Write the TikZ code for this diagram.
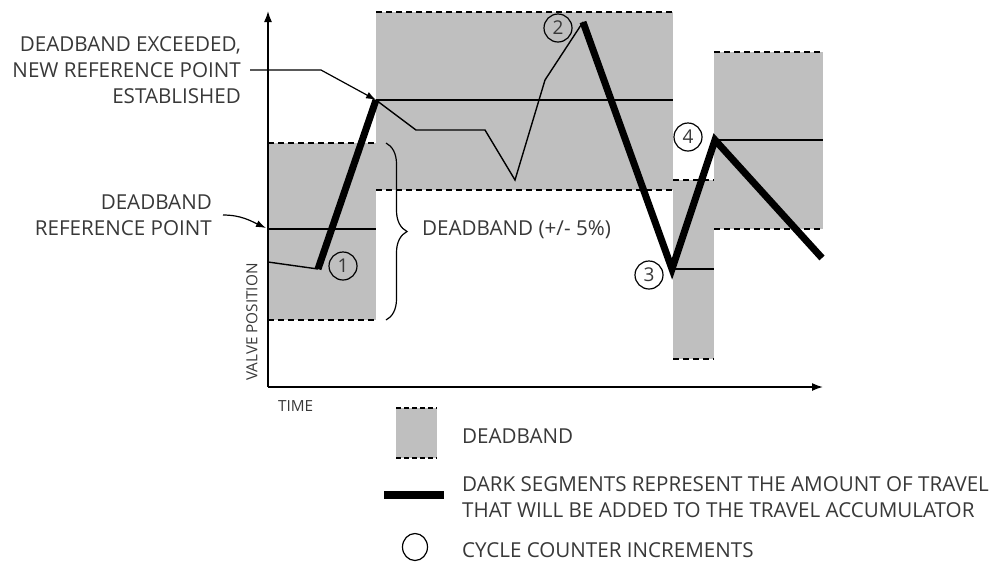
\documentclass[tikz,border=0pt]{standalone}
\usepackage{fontspec}
\setmainfont{Open Sans}
\usetikzlibrary{arrows.meta,positioning,decorations.pathreplacing,shapes.geometric}

\begin{document}
\begin{tikzpicture}[
  x=1pt, y=-1pt,
  font=\fontsize{20.6}{26}\selectfont,
  txt/.style={text=black!78, inner sep=0pt},
  small/.style={txt, font=\fontsize{15.3}{18}\selectfont},
  band/.style={fill=black!25, draw=none},
  bandedge/.style={dash pattern=on 6pt off 4pt, line width=2pt},
  refline/.style={line width=1.2pt},
  trace/.style={line width=1.4pt, line join=miter},
  travel/.style={line width=7pt, line join=miter},
  cyc/.style={circle, draw=black, line width=1.2pt, minimum size=28pt, inner sep=0pt,
              text=black!78, font=\fontsize{19}{20}\selectfont},
  axis/.style={-{Latex[length=11pt,width=8pt]}, line width=1.6pt},
  arr/.style={-{Latex[length=10pt,width=7pt]}, line width=1.2pt},
]
\useasboundingbox (0,0) rectangle (998,566);
% --- DEADBANDS ---
\fill[band] (268,143) rectangle (376,320);
\fill[band] (376,12) rectangle (673,190);
\fill[band] (673,180) rectangle (714,359);
\fill[band] (714,52) rectangle (823,229);
\draw[bandedge] (268,143) -- (376,143) (268,320) -- (376,320);
\draw[bandedge] (376,12) -- (673,12) (376,190) -- (673,190);
\draw[bandedge] (673,180) -- (714,180) (673,359) -- (714,359);
\draw[bandedge] (714,52) -- (823,52) (714,229) -- (823,229);
% reference points
\draw[refline] (268,229) -- (376,229);
\draw[refline] (376,100) -- (673,100);
\draw[refline] (673,269) -- (714,269);
\draw[refline] (714,140) -- (823,140);
% --- AXES ---
\coordinate (o) at (268,387);
\coordinate (ytop) at (268,11);
\coordinate (xend) at (823,387);
\draw[axis] (o) -- (ytop);
\draw[axis] (o) -- (xend);
\node[small, rotate=90] (vpos) at (252,322) {VALVE POSITION};
\node[small, anchor=west] (time) at (278,406) {TIME};
% --- VALVE TRACE ---
\coordinate (p0) at (268,262);
\coordinate (c1) at (318,269);
\coordinate (c2) at (376,100);
\coordinate (p3) at (416,130);
\coordinate (p4) at (485,130);
\coordinate (p5) at (515,180);
\coordinate (p6) at (545,80);
\coordinate (c3) at (583,22);
\coordinate (c4) at (672,269);
\coordinate (c5) at (715,140);
\coordinate (pend) at (822,258);
\draw[trace] (p0) -- (c1);
\draw[trace] (c2) -- (p3) -- (p4) -- (p5) -- (p6) -- (c3);
\draw[travel] (c1) -- (c2);
\draw[travel] (c3) -- (c4) -- (c5) -- (pend);
% --- CYCLE COUNTS ---
\node[cyc] (n1) at (343,266) {1};
\node[cyc] (n2) at (558,28) {2};
\node[cyc] (n3) at (649,275) {3};
\node[cyc] (n4) at (688,137) {4};
% --- CALLOUTS ---
\node[txt, anchor=east, align=right] (exc) at (241,70)
  {DEADBAND EXCEEDED,\\NEW REFERENCE POINT\\ESTABLISHED};
\draw[arr] ([xshift=9pt]exc.east) -- ++(71,0) -- (c2);
\node[txt, anchor=east, align=right] (refpt) at (212,215)
  {DEADBAND\\REFERENCE POINT};
\coordinate (r1) at (266,228);
\draw[arr] ([xshift=11pt]refpt.east) to[out=0, in=155] (r1);
\coordinate (b1) at (386,143);
\coordinate (b2) at (386,320);
\draw[line width=1.2pt, decorate, decoration={brace, amplitude=21pt}] (b1) -- (b2);
\node[txt, anchor=west] (dbw) at (422,230) {DEADBAND (+/- 5\%)};
% --- LEGEND ---
\fill[band] (396,408) rectangle (437,458);
\draw[bandedge, dash pattern=on 5pt off 3pt] (396,408) -- (437,408) (396,458) -- (437,458);
\node[txt, anchor=west] (legdb) at (462,436) {DEADBAND};
\draw[line width=8pt] (384,495) -- (444,495);
\node[txt, anchor=west, align=left] (legtr) at (462,497)
  {DARK SEGMENTS REPRESENT THE AMOUNT OF TRAVEL\\THAT WILL BE ADDED TO THE TRAVEL ACCUMULATOR};
\node[cyc, ellipse, minimum width=25pt, minimum height=27pt] (legcy) at (415,547) {};
\node[txt, anchor=west] (legcc) at (462,550) {CYCLE COUNTER INCREMENTS};
\end{tikzpicture}
\end{document}
